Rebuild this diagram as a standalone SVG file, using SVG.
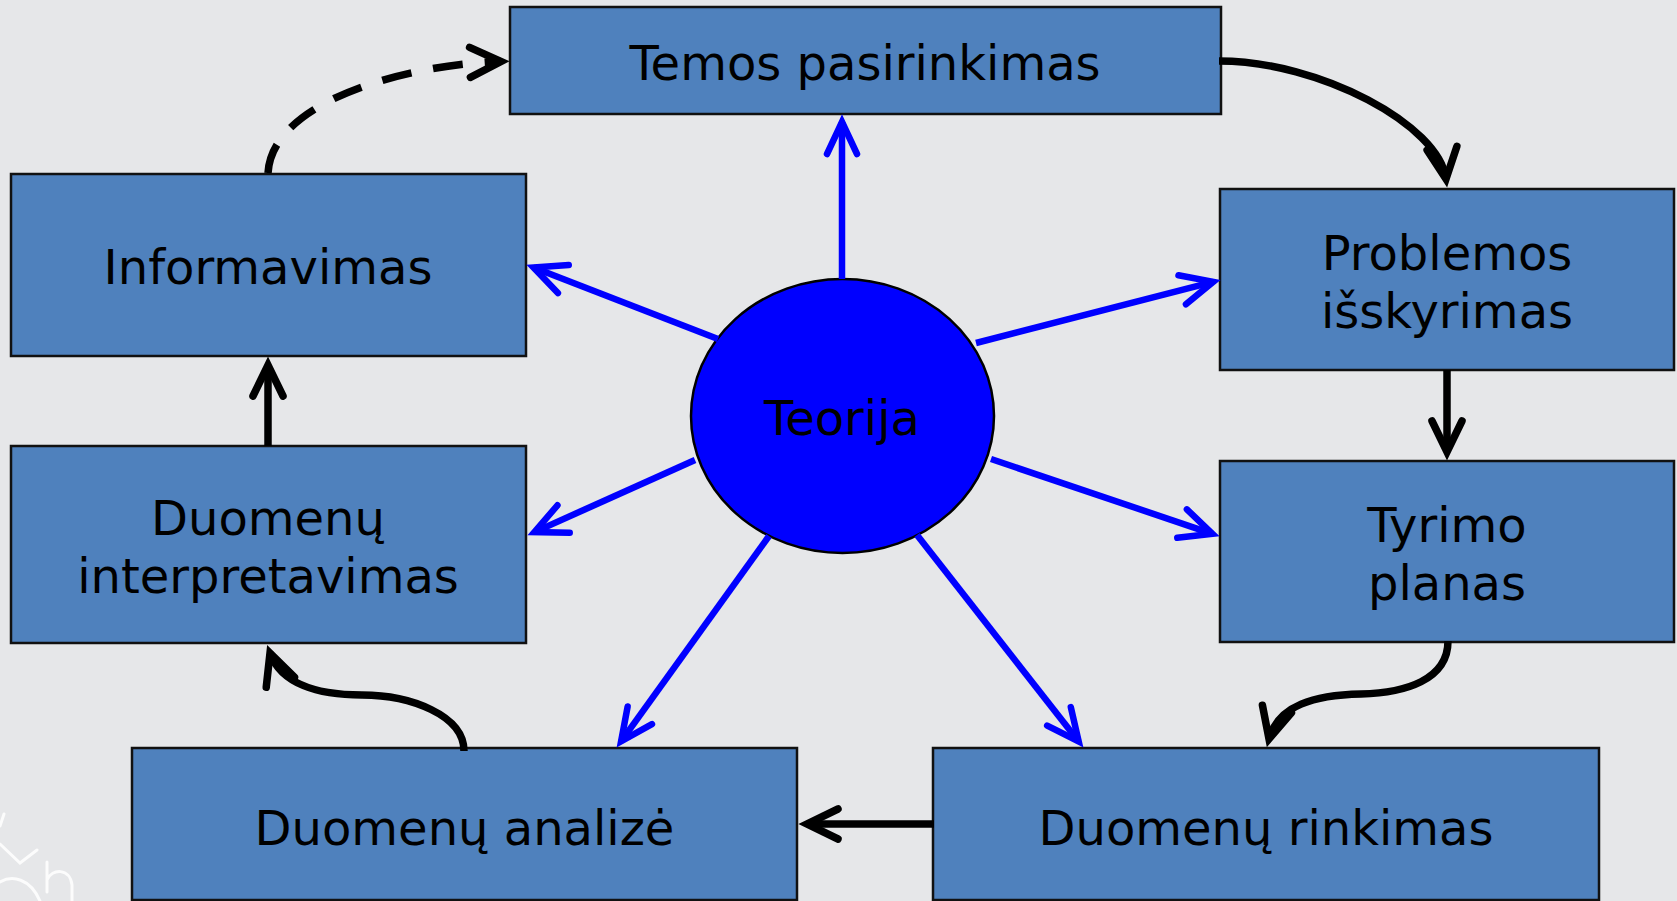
<svg xmlns="http://www.w3.org/2000/svg" width="1677" height="901" viewBox="0 0 1677 901">
<style>
.box{fill:#4F81BD;stroke:#111;stroke-width:2.5}
.lbl{font-family:"DejaVu Sans","Verdana",sans-serif;font-size:48px;fill:#000;text-anchor:middle}
.blue{fill:none;stroke:#0000FF;stroke-width:6.5;marker-end:url(#ab)}
.blk{fill:none;stroke:#000;stroke-width:7.5;marker-end:url(#ak)}
.dash{fill:none;stroke:#000;stroke-width:7.5;stroke-dasharray:30 22;marker-end:url(#ak)}
.logo{fill:none;stroke:#fff;stroke-width:3;stroke-linecap:round;opacity:0.85}
</style>
<defs>
<marker id="ab" markerUnits="userSpaceOnUse" markerWidth="60" markerHeight="60" viewBox="-45 -30 60 60" refX="0" refY="0" orient="auto" overflow="visible">
<path d="M-32,-15 L0,0 L-32,15" fill="none" stroke="#0000FF" stroke-width="6.5" stroke-linecap="round" stroke-linejoin="miter"/>
</marker>
<marker id="ak" markerUnits="userSpaceOnUse" markerWidth="60" markerHeight="60" viewBox="-45 -30 60 60" refX="0" refY="0" orient="auto" overflow="visible">
<path d="M-31,-15 L0,0 L-31,15" fill="none" stroke="#000" stroke-width="7.5" stroke-linecap="round" stroke-linejoin="miter"/>
</marker>
</defs>
<rect x="0" y="0" width="1677" height="901" fill="#E6E7E9"/>
<g id="logo">
<path class="logo" d="M0,826 L4,814"/>
<path class="logo" d="M0,844 L20,863 L37,850"/>
<path class="logo" d="M47,862 L47,892 M47,880 C52,868 70,868 72,885 L72,901"/>
<path class="logo" d="M0,882 C12,875 30,878 40,901"/>
</g>
<g id="n-temos"><rect class="box" x="510" y="7" width="711" height="107"/><text class="lbl" x="865" y="80">Temos pasirinkimas</text></g>
<g id="n-informavimas"><rect class="box" x="11" y="174" width="515" height="182"/><text class="lbl" x="268" y="284">Informavimas</text></g>
<g id="n-problemos"><rect class="box" x="1220" y="189" width="454" height="181"/><text class="lbl" x="1447" y="270">Problemos</text><text class="lbl" x="1447" y="328">išskyrimas</text></g>
<g id="n-tyrimo"><rect class="box" x="1220" y="461" width="454" height="181"/><text class="lbl" x="1447" y="542">Tyrimo</text><text class="lbl" x="1447" y="600">planas</text></g>
<g id="n-interpretavimas"><rect class="box" x="11" y="446" width="515" height="197"/><text class="lbl" x="268" y="535">Duomenų</text><text class="lbl" x="268" y="593">interpretavimas</text></g>
<g id="n-analize"><rect class="box" x="132" y="748" width="665" height="152"/><text class="lbl" x="464.5" y="845">Duomenų analizė</text></g>
<g id="n-rinkimas"><rect class="box" x="933" y="748" width="666" height="152"/><text class="lbl" x="1266" y="845">Duomenų rinkimas</text></g>
<g id="n-teorija"><ellipse cx="842.5" cy="416" rx="151.5" ry="137" fill="#0000FF" stroke="#000" stroke-width="2.5"/><text class="lbl" x="842" y="435">Teorija</text></g>
<g id="connectors">
<path class="blue" d="M842,279 L842,122"/>
<path class="blue" d="M718,339 L533.5,267.5"/>
<path class="blue" d="M976,343 L1213.2,281.8"/>
<path class="blue" d="M991,459 L1212.4,533.8"/>
<path class="blue" d="M695,460 L534.4,532.1"/>
<path class="blue" d="M769,536 L621.1,741.3"/>
<path class="blue" d="M917,535 L1078.7,741.5"/>
<path class="blk" d="M1219,61 C1320,61 1439,125 1446,179"/>
<path class="blk" d="M1447,370 L1447,452"/>
<path class="blk" d="M1448,641 C1448,680 1405,693 1361,694 C1315,695 1278,705 1269,739"/>
<path class="blk" d="M934,824 L807,824"/>
<path class="blk" d="M464,751 C464,715 410,695 362,695 C318,695 281,684 270,653"/>
<path class="blk" d="M268,446 L268,365"/>
<path class="dash" d="M268,173 C272,100 410,64 501,61.5"/>
</g>
</svg>
